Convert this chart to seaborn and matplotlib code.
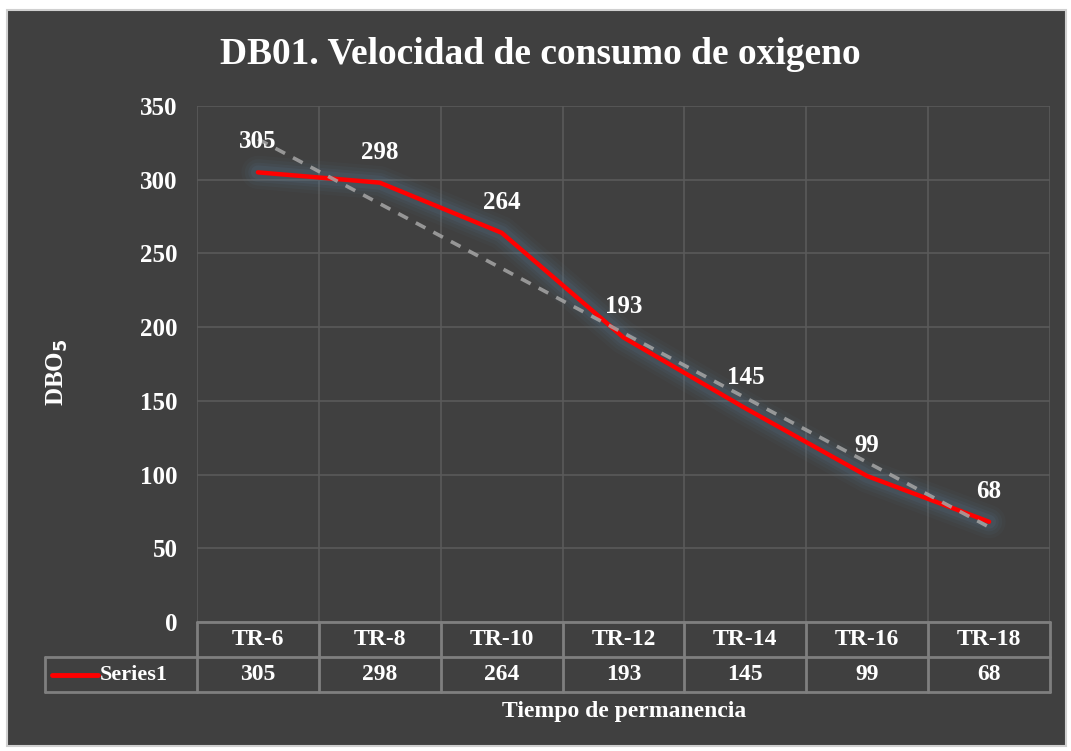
import numpy as np
import pandas as pd
import matplotlib
matplotlib.use("Agg")
import matplotlib.pyplot as plt
import matplotlib.transforms as mtransforms
from matplotlib.patches import Rectangle
import seaborn as sns

# data
categories = ["TR-6", "TR-8", "TR-10", "TR-12", "TR-14", "TR-16", "TR-18"]
dbo5 = [305, 298, 264, 193, 145, 99, 68]
series_name = "Series1"
y_ticks = [0, 50, 100, 150, 200, 250, 300, 350]

BG = "#404040"
GRID = "#5a5a5a"
TABLE = "#7f7f7f"
WHITE = "white"

sns.set_theme(style="dark")
plt.rcParams["font.family"] = ["Liberation Serif", "DejaVu Serif"]
plt.rcParams["font.weight"] = "bold"

df = pd.DataFrame({"pos": np.arange(len(categories)), "DBO5": dbo5})

fig = plt.figure(figsize=(10.71, 7.51), dpi=100, facecolor="white")
# chart area frame (behind the axes)
fig.patches.append(Rectangle((7 / 1071, 5 / 751), 1059 / 1071, 736 / 751,
                             transform=fig.transFigure, facecolor=BG,
                             edgecolor="#d0d0d0", linewidth=1.5, zorder=-10))

ax = fig.add_axes([197 / 1071, 1 - 622 / 751, 853 / 1071, 516 / 751])
ax.set_facecolor(BG)
ax.set_xlim(-0.5, len(categories) - 0.5)
ax.set_ylim(0, 350)

# grid: horizontal at ticks, vertical at category boundaries
for y in y_ticks:
    ax.axhline(y, color=GRID, lw=1.2, zorder=1)
for b in np.arange(-0.5, len(categories), 1.0):
    ax.axvline(b, color=GRID, lw=1.2, zorder=1)

# glow under the line
for lw, a in [(24, 0.05), (19, 0.07), (14, 0.09), (10, 0.12)]:
    ax.plot(df["pos"], df["DBO5"], color="#5b7d9e", lw=lw, alpha=a,
            solid_capstyle="round", solid_joinstyle="round", zorder=2)

sns.lineplot(data=df, x="pos", y="DBO5", ax=ax, color="#ff0000", lw=3.2,
             zorder=3, legend=False)

# linear trendline
coef = np.polyfit(df["pos"], df["DBO5"], 1)
ax.plot(df["pos"], np.polyval(coef, df["pos"]), color="#a6a6a6", lw=2.6,
        ls=(0, (3, 2.5)), alpha=0.85, zorder=4)

for x, v in zip(df["pos"], dbo5):
    ax.annotate(str(v), (x, v), xytext=(0, 22), textcoords="offset points",
                ha="center", va="center", color=WHITE, fontsize=18,
                fontweight="bold", zorder=5)

for s in ax.spines.values():
    s.set_visible(False)
ax.set_xticks([])
ax.set_yticks(y_ticks)
ax.set_yticklabels([str(t) for t in y_ticks], color=WHITE, fontsize=18,
                   fontweight="bold")
ax.tick_params(axis="y", length=0, pad=14)
ax.set_xlabel("")
ax.set_ylabel("")

# data table under the axis
trans = mtransforms.blended_transform_factory(ax.transData, ax.transAxes)
rh = 35 / 516
n = len(categories)
unit = 853 / n  # px per category
lx = -0.5 - 152 / unit  # left edge of series label cell
tk = dict(color=TABLE, lw=2, clip_on=False, zorder=6, transform=trans)
ax.plot([-0.5, n - 0.5], [0, 0], **tk)
ax.plot([lx, n - 0.5], [-rh, -rh], **tk)
ax.plot([lx, n - 0.5], [-2 * rh, -2 * rh], **tk)
for b in np.arange(-0.5, n, 1.0):
    ax.plot([b, b], [0, -2 * rh], **tk)
ax.plot([lx, lx], [-rh, -2 * rh], **tk)
for i, (c, v) in enumerate(zip(categories, dbo5)):
    ax.text(i, -rh / 2, c, transform=trans, ha="center", va="center",
            color=WHITE, fontsize=17, fontweight="bold")
    ax.text(i, -1.5 * rh, str(v), transform=trans, ha="center", va="center",
            color=WHITE, fontsize=17, fontweight="bold")
ax.plot([lx + 7 / unit, lx + 53 / unit], [-1.5 * rh, -1.5 * rh],
        color="#ff0000", lw=3.5, clip_on=False, transform=trans, zorder=6)
ax.text(lx + 55 / unit, -1.5 * rh, series_name, transform=trans, ha="left",
        va="center", color=WHITE, fontsize=16, fontweight="bold")

fig.text(624 / 1071, 1 - 712 / 751, "Tiempo de permanencia", ha="center",
         va="center", color=WHITE, fontsize=17, fontweight="bold")
fig.text(57 / 1071, 1 - 372 / 751, "DBO$_\\mathbf{5}$", ha="center", va="center",
         rotation=90, color=WHITE, fontsize=18, fontweight="bold")
fig.text(540 / 1071, 1 - 54 / 751, "DB01. Velocidad de consumo de oxigeno",
         ha="center", va="center", color=WHITE, fontsize=27, fontweight="bold")

fig.savefig("out.png", dpi=100, facecolor="white")
